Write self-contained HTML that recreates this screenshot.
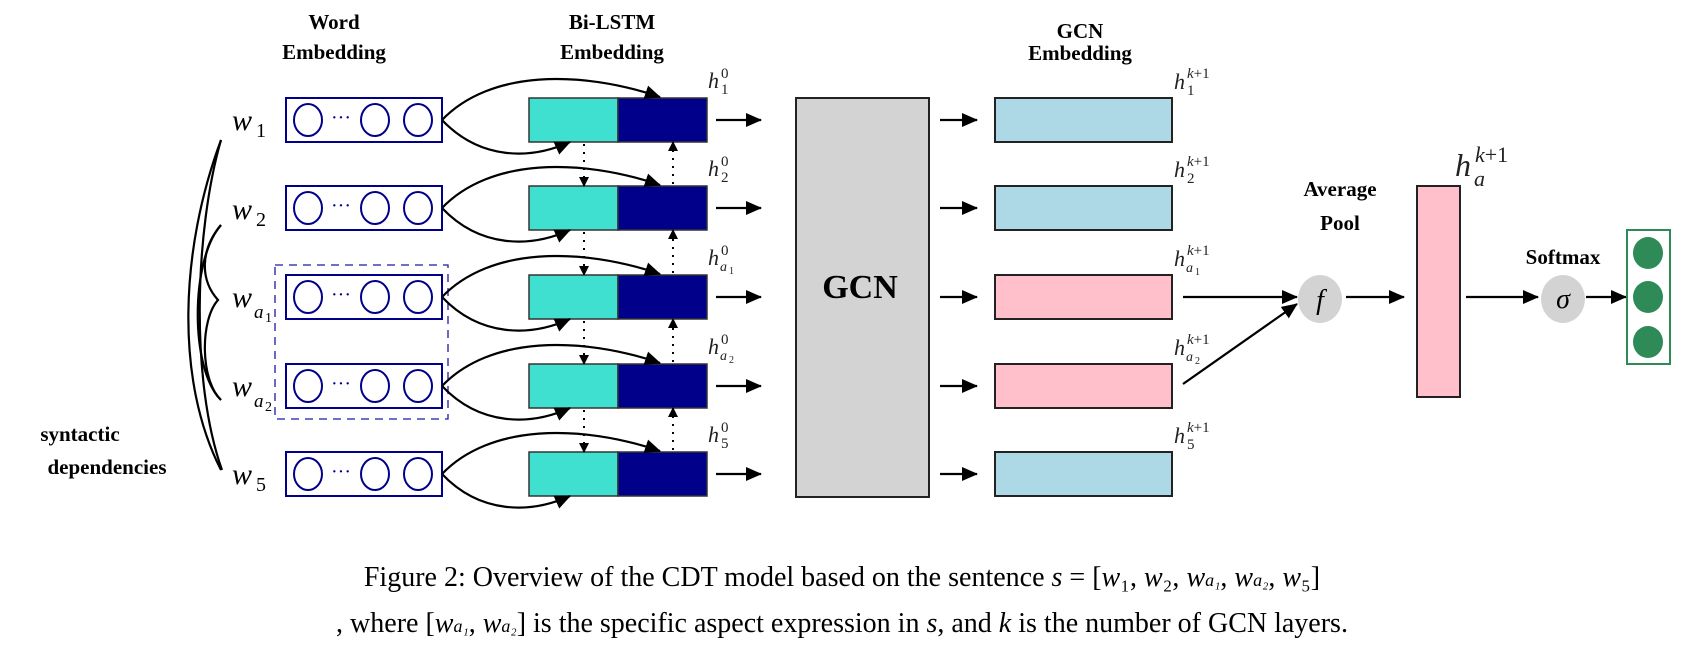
<!DOCTYPE html>
<html><head><meta charset="utf-8"><style>body{margin:0;background:#fff}svg{display:block}text{font-family:"Liberation Serif",serif}</style></head><body>
<svg width="1684" height="656" viewBox="0 0 1684 656" xmlns="http://www.w3.org/2000/svg">
<defs>
<marker id="a" markerWidth="10" markerHeight="10" refX="9" refY="5" orient="auto" markerUnits="userSpaceOnUse" viewBox="0 0 10 10"><path d="M0,0 L10,5 L0,10z" fill="#000"/></marker>
<marker id="b" markerWidth="16" markerHeight="14" refX="15" refY="7" orient="auto" markerUnits="userSpaceOnUse" viewBox="0 0 16 14"><path d="M0,0 L16,7 L0,14z" fill="#000"/></marker>
</defs>
<g font-weight="bold" font-size="21" text-anchor="middle">
<text x="334" y="29">Word</text><text x="334" y="59">Embedding</text>
<text x="612" y="29">Bi-LSTM</text><text x="612" y="59">Embedding</text>
<text x="1080" y="38">GCN</text><text x="1080" y="60">Embedding</text>
<text x="1340" y="196">Average</text><text x="1340" y="230">Pool</text>
<text x="1563" y="264">Softmax</text>
<text x="80" y="441">syntactic</text><text x="107" y="474">dependencies</text>
</g>
<rect x="275" y="265" width="173" height="154" fill="none" stroke="#1a1aa0" stroke-width="1.3" stroke-dasharray="8,6"/>
<g id="rows">
</g>
<!-- rows -->
<g stroke-width="2">
<!-- row template repeated -->
</g>
<g fill="none" stroke="#000" stroke-width="2.2">
<path d="M221,140 C180,250 175,380 221,470"/>
<path d="M221,225 C190,260 190,370 221,400"/>
<path d="M221,225 C200,250 200,280 218,300 C200,320 200,380 221,400"/>
<path d="M221,140 C195,230 190,380 222,470"/>
</g>
<g font-style="italic" font-size="30">
<text x="232" y="130">w</text><text x="256" y="137" font-size="20" font-style="normal">1</text>
<text x="232" y="219">w</text><text x="256" y="226" font-size="20" font-style="normal">2</text>
<text x="232" y="307">w</text><text x="254" y="318" font-size="19">a</text><text x="265" y="322" font-size="14" font-style="normal">1</text>
<text x="232" y="396">w</text><text x="254" y="407" font-size="19">a</text><text x="265" y="411" font-size="14" font-style="normal">2</text>
<text x="232" y="484">w</text><text x="256" y="491" font-size="20" font-style="normal">5</text>
</g>
<!-- word boxes -->
<g fill="none" stroke="#00008b" stroke-width="2">
<rect x="286" y="98" width="156" height="44"/><rect x="286" y="186" width="156" height="44"/><rect x="286" y="275" width="156" height="44"/><rect x="286" y="364" width="156" height="44"/><rect x="286" y="452" width="156" height="44"/>
</g>
<g fill="none" stroke="#00008b" stroke-width="2">
<ellipse cx="308" cy="120" rx="14" ry="16"/><ellipse cx="375" cy="120" rx="14" ry="16"/><ellipse cx="418" cy="120" rx="14" ry="16"/>
<ellipse cx="308" cy="208" rx="14" ry="16"/><ellipse cx="375" cy="208" rx="14" ry="16"/><ellipse cx="418" cy="208" rx="14" ry="16"/>
<ellipse cx="308" cy="297" rx="14" ry="16"/><ellipse cx="375" cy="297" rx="14" ry="16"/><ellipse cx="418" cy="297" rx="14" ry="16"/>
<ellipse cx="308" cy="386" rx="14" ry="16"/><ellipse cx="375" cy="386" rx="14" ry="16"/><ellipse cx="418" cy="386" rx="14" ry="16"/>
<ellipse cx="308" cy="474" rx="14" ry="16"/><ellipse cx="375" cy="474" rx="14" ry="16"/><ellipse cx="418" cy="474" rx="14" ry="16"/>
</g>
<g fill="#00008b" font-size="20" text-anchor="middle"><text x="341" y="124">···</text><text x="341" y="212">···</text><text x="341" y="301">···</text><text x="341" y="390">···</text><text x="341" y="478">···</text></g>
<!-- bilstm -->
<g stroke="#333" stroke-width="1.5">
<rect x="529" y="98" width="89" height="44" fill="#40e0d0"/><rect x="618" y="98" width="89" height="44" fill="#00008b"/>
<rect x="529" y="186" width="89" height="44" fill="#40e0d0"/><rect x="618" y="186" width="89" height="44" fill="#00008b"/>
<rect x="529" y="275" width="89" height="44" fill="#40e0d0"/><rect x="618" y="275" width="89" height="44" fill="#00008b"/>
<rect x="529" y="364" width="89" height="44" fill="#40e0d0"/><rect x="618" y="364" width="89" height="44" fill="#00008b"/>
<rect x="529" y="452" width="89" height="44" fill="#40e0d0"/><rect x="618" y="452" width="89" height="44" fill="#00008b"/>
</g>
<g fill="none" stroke="#000" stroke-width="2.2">
<path d="M442,120 C490,70 580,70 660,97" marker-end="url(#b)"/><path d="M442,120 C480,160 530,160 570,142" marker-end="url(#b)"/>
<path d="M442,208 C490,158 580,158 660,185" marker-end="url(#b)"/><path d="M442,208 C480,248 530,248 570,230" marker-end="url(#b)"/>
<path d="M442,297 C490,247 580,247 660,274" marker-end="url(#b)"/><path d="M442,297 C480,337 530,337 570,319" marker-end="url(#b)"/>
<path d="M442,386 C490,336 580,336 660,363" marker-end="url(#b)"/><path d="M442,386 C480,426 530,426 570,408" marker-end="url(#b)"/>
<path d="M442,474 C490,424 580,424 660,451" marker-end="url(#b)"/><path d="M442,474 C480,514 530,514 570,496" marker-end="url(#b)"/>
</g>
<g stroke="#000" stroke-width="2" stroke-dasharray="2,6" fill="none">
<path d="M584,144 V186" marker-end="url(#a)"/><path d="M584,232 V275" marker-end="url(#a)"/><path d="M584,321 V364" marker-end="url(#a)"/><path d="M584,410 V452" marker-end="url(#a)"/>
<path d="M673,184 V142" marker-end="url(#a)"/><path d="M673,273 V230" marker-end="url(#a)"/><path d="M673,362 V319" marker-end="url(#a)"/><path d="M673,450 V408" marker-end="url(#a)"/>
</g>
<g font-style="italic" font-size="22" fill="#222">
<text x="708" y="88">h</text><text x="721" y="78" font-size="15" font-style="normal">0</text><text x="721" y="94" font-size="15" font-style="normal">1</text>
<text x="708" y="176">h</text><text x="721" y="166" font-size="15" font-style="normal">0</text><text x="721" y="182" font-size="15" font-style="normal">2</text>
<text x="708" y="265">h</text><text x="721" y="255" font-size="15" font-style="normal">0</text><text x="720" y="271" font-size="14">a</text><text x="729" y="274" font-size="10" font-style="normal">1</text>
<text x="708" y="354">h</text><text x="721" y="344" font-size="15" font-style="normal">0</text><text x="720" y="360" font-size="14">a</text><text x="729" y="363" font-size="10" font-style="normal">2</text>
<text x="708" y="442">h</text><text x="721" y="432" font-size="15" font-style="normal">0</text><text x="721" y="448" font-size="15" font-style="normal">5</text>
</g>
<g stroke="#000" stroke-width="2.2">
<line x1="716" y1="120" x2="761" y2="120" marker-end="url(#b)"/><line x1="716" y1="208" x2="761" y2="208" marker-end="url(#b)"/><line x1="716" y1="297" x2="761" y2="297" marker-end="url(#b)"/><line x1="716" y1="386" x2="761" y2="386" marker-end="url(#b)"/><line x1="716" y1="474" x2="761" y2="474" marker-end="url(#b)"/>
<line x1="940" y1="120" x2="977" y2="120" marker-end="url(#b)"/><line x1="940" y1="208" x2="977" y2="208" marker-end="url(#b)"/><line x1="940" y1="297" x2="977" y2="297" marker-end="url(#b)"/><line x1="940" y1="386" x2="977" y2="386" marker-end="url(#b)"/><line x1="940" y1="474" x2="977" y2="474" marker-end="url(#b)"/>
</g>
<rect x="796" y="98" width="133" height="399" fill="#d3d3d3" stroke="#222" stroke-width="2"/>
<text x="860" y="298" font-size="34" font-weight="bold" text-anchor="middle">GCN</text>
<g stroke="#222" stroke-width="2">
<rect x="995" y="98" width="177" height="44" fill="#add8e6"/><rect x="995" y="186" width="177" height="44" fill="#add8e6"/><rect x="995" y="275" width="177" height="44" fill="#ffc0cb"/><rect x="995" y="364" width="177" height="44" fill="#ffc0cb"/><rect x="995" y="452" width="177" height="44" fill="#add8e6"/>
</g>
<g font-style="italic" font-size="22" fill="#222">
<text x="1174" y="89">h</text><text x="1187" y="78" font-size="15">k<tspan font-style="normal">+1</tspan></text><text x="1187" y="95" font-size="15" font-style="normal">1</text>
<text x="1174" y="177">h</text><text x="1187" y="166" font-size="15">k<tspan font-style="normal">+1</tspan></text><text x="1187" y="183" font-size="15" font-style="normal">2</text>
<text x="1174" y="266">h</text><text x="1187" y="255" font-size="15">k<tspan font-style="normal">+1</tspan></text><text x="1186" y="272" font-size="14">a</text><text x="1195" y="275" font-size="10" font-style="normal">1</text>
<text x="1174" y="355">h</text><text x="1187" y="344" font-size="15">k<tspan font-style="normal">+1</tspan></text><text x="1186" y="361" font-size="14">a</text><text x="1195" y="364" font-size="10" font-style="normal">2</text>
<text x="1174" y="443">h</text><text x="1187" y="432" font-size="15">k<tspan font-style="normal">+1</tspan></text><text x="1187" y="449" font-size="15" font-style="normal">5</text>
<text x="1455" y="176" font-size="32">h</text><text x="1475" y="162" font-size="22">k<tspan font-style="normal">+1</tspan></text><text x="1474" y="186" font-size="22">a</text>
</g>
<ellipse cx="1320" cy="299" rx="22" ry="24" fill="#d3d3d3"/>
<text x="1320" y="309" font-size="28" font-style="italic" text-anchor="middle">f</text>
<ellipse cx="1563" cy="299" rx="22" ry="24" fill="#d3d3d3"/>
<text x="1563" y="308" font-size="28" font-style="italic" text-anchor="middle">σ</text>
<g stroke="#000" stroke-width="2.2">
<line x1="1183" y1="297" x2="1297" y2="297" marker-end="url(#b)"/>
<line x1="1183" y1="384" x2="1297" y2="304" marker-end="url(#b)"/>
<line x1="1346" y1="297" x2="1404" y2="297" marker-end="url(#b)"/>
<line x1="1466" y1="297" x2="1538" y2="297" marker-end="url(#b)"/>
<line x1="1586" y1="297" x2="1626" y2="297" marker-end="url(#b)"/>
</g>
<rect x="1417" y="186" width="43" height="211" fill="#ffc0cb" stroke="#222" stroke-width="2"/>
<rect x="1627" y="230" width="43" height="134" fill="#fff" stroke="#2e8b57" stroke-width="2"/>
<g fill="#2e8b57"><ellipse cx="1648" cy="253" rx="15" ry="16"/><ellipse cx="1648" cy="297" rx="15" ry="16"/><ellipse cx="1648" cy="342" rx="15" ry="16"/></g>
<g font-size="28" text-anchor="middle">
<text x="842" y="586">Figure 2: Overview of the CDT model based on the sentence <tspan font-style="italic">s</tspan> = [<tspan font-style="italic">w</tspan>₁, <tspan font-style="italic">w</tspan>₂, <tspan font-style="italic">w</tspan><tspan font-size="18" font-style="italic">a₁</tspan>, <tspan font-style="italic">w</tspan><tspan font-size="18" font-style="italic">a₂</tspan>, <tspan font-style="italic">w</tspan>₅]</text>
<text x="842" y="632">, where [<tspan font-style="italic">w</tspan><tspan font-size="18" font-style="italic">a₁</tspan>, <tspan font-style="italic">w</tspan><tspan font-size="18" font-style="italic">a₂</tspan>] is the specific aspect expression in <tspan font-style="italic">s</tspan>, and <tspan font-style="italic">k</tspan> is the number of GCN layers.</text>
</g>
</svg>
</body></html>
